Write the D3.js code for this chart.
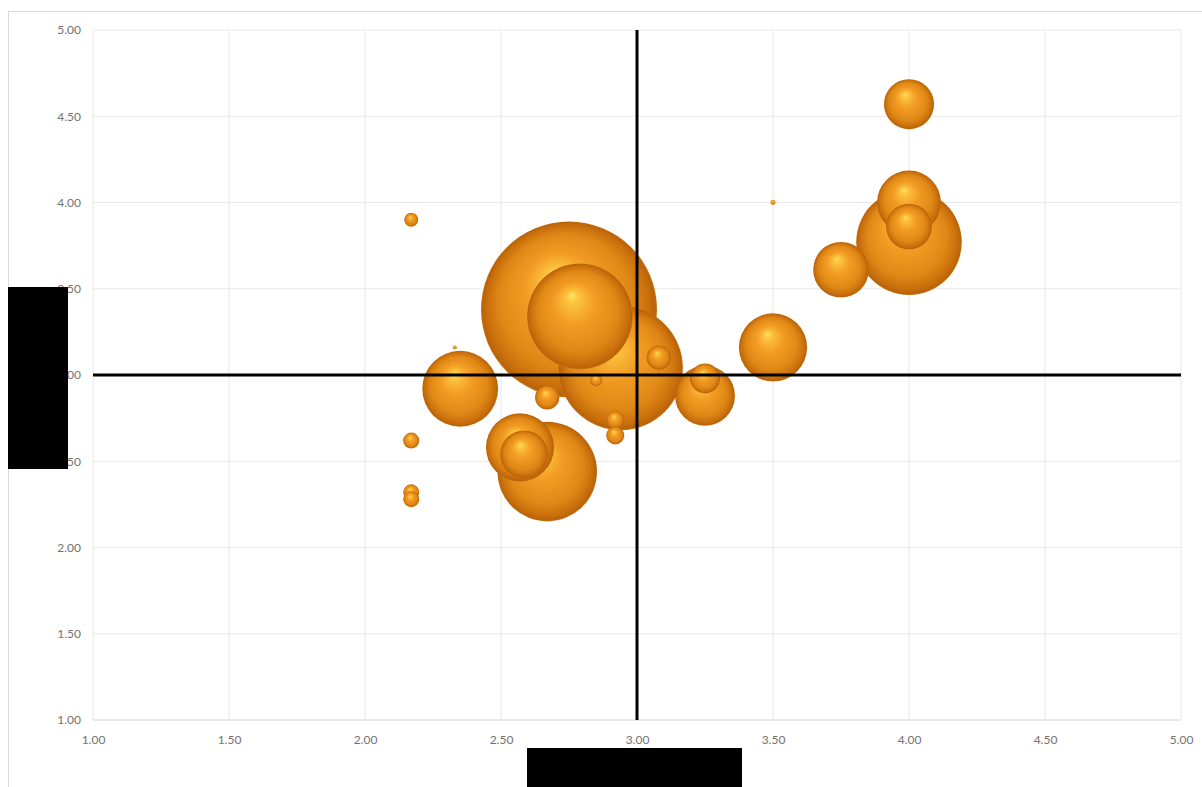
<!DOCTYPE html>
<html>
<head>
<meta charset="utf-8">
<script src="https://cdn.jsdelivr.net/npm/d3@7"></script>
<style>
  html, body { margin: 0; padding: 0; background: #fff; }
  svg { display: block; }
  .tick text { font-family: Lato, "Liberation Sans", sans-serif; font-size: 12px; fill: #737373; }
</style>
</head>
<body>
<svg id="chart" width="1202" height="787"></svg>
<script>
// Bubble series: x value, y value, bubble size
const xValues = [4.00, 3.50, 2.17, 2.75, 2.79, 2.94, 3.08, 2.85, 2.35, 2.33, 2.67, 2.92, 2.92,
                 2.17, 2.17, 2.17, 2.67, 2.57, 2.585, 3.25, 3.25, 3.50, 3.75, 4.00, 4.00, 4.00];
const yValues = [4.57, 4.00, 3.90, 3.38, 3.34, 3.04, 3.10, 2.97, 2.92, 3.16, 2.87, 2.74, 2.65,
                 2.62, 2.32, 2.28, 2.44, 2.58, 2.54, 2.88, 2.98, 3.16, 3.61, 3.77, 4.00, 3.86];
const sizes   = [8.1, 0.08, 0.63, 100, 36, 50, 1.9, 0.46, 18.6, 0.05, 1.9, 1.05, 1.05,
                 0.83, 0.83, 0.83, 32, 15, 7.4, 11.6, 2.9, 15, 10, 36, 13.2, 6.8];

// Axis ticks and the midpoint reference lines
const xTicks = [1.00, 1.50, 2.00, 2.50, 3.00, 3.50, 4.00, 4.50, 5.00];
const yTicks = [1.00, 1.50, 2.00, 2.50, 3.00, 3.50, 4.00, 4.50, 5.00];
const xMid = 3.00;
const yMid = 3.00;

const svg = d3.select("#chart");

const x = d3.scaleLinear().domain([1, 5]).range([93, 1181]);
const y = d3.scaleLinear().domain([1, 5]).range([720, 30]);
const r = d3.scaleSqrt().domain([0, d3.max(sizes)]).range([0, 88]);

// chart area frame
svg.append("rect")
  .attr("x", 8.5).attr("y", 11.5)
  .attr("width", 1300).attr("height", 900)
  .attr("fill", "none").attr("stroke", "#dadada");

// shaded sphere gradient
const defs = svg.append("defs");
const grad = defs.append("radialGradient")
  .attr("id", "sphere")
  .attr("cx", 0.5).attr("cy", 0.5).attr("r", 0.5)
  .attr("fx", 0.42).attr("fy", 0.3);
[
  [0.00, "#ffe468"],
  [0.12, "#fcc23e"],
  [0.40, "#f29c24"],
  [0.75, "#e08816"],
  [0.92, "#c96f0c"],
  [0.98, "#b9630a"],
  [1.00, "#c8740f"]
].forEach(([o, c]) => grad.append("stop").attr("offset", o).attr("stop-color", c));

// gridlines
const grid = svg.append("g");
grid.selectAll("line.gx").data(xTicks).join("line")
  .attr("x1", d => x(d)).attr("x2", d => x(d))
  .attr("y1", y(5)).attr("y2", y(1))
  .attr("stroke", "#e8e8e8").attr("stroke-width", 1);
grid.selectAll("line.gy").data(yTicks).join("line")
  .attr("x1", x(1)).attr("x2", x(5))
  .attr("y1", d => y(d)).attr("y2", d => y(d))
  .attr("stroke", d => d === 1 ? "#d4d4d4" : "#e8e8e8").attr("stroke-width", 1);

// axes (labels only)
const xAxis = d3.axisBottom(x).tickValues(xTicks).tickFormat(d3.format(".2f")).tickSize(0).tickPadding(15);
const yAxis = d3.axisLeft(y).tickValues(yTicks).tickFormat(d3.format(".2f")).tickSize(0).tickPadding(12);
svg.append("g").attr("transform", `translate(0,${y(1)})`).call(xAxis)
  .call(g => g.select(".domain").remove());
svg.append("g").attr("transform", `translate(${x(1)},0)`).call(yAxis)
  .call(g => g.select(".domain").remove());

// bubbles, larger ones behind
const data = xValues.map((v, i) => ({ x: v, y: yValues[i], s: sizes[i] }))
  .sort((a, b) => b.s - a.s);
svg.append("g").selectAll("circle").data(data).join("circle")
  .attr("cx", d => x(d.x))
  .attr("cy", d => y(d.y))
  .attr("r", d => Math.max(r(d.s), 1.5))
  .attr("fill", "url(#sphere)");

// midpoint reference lines
svg.append("line")
  .attr("x1", x(xMid)).attr("x2", x(xMid))
  .attr("y1", y(5)).attr("y2", y(1))
  .attr("stroke", "#000").attr("stroke-width", 3);
svg.append("line")
  .attr("x1", x(1)).attr("x2", x(5))
  .attr("y1", y(yMid)).attr("y2", y(yMid))
  .attr("stroke", "#000").attr("stroke-width", 3);

// axis title blocks
svg.append("rect").attr("x", 8).attr("y", 287).attr("width", 60).attr("height", 182).attr("fill", "#000");
svg.append("rect").attr("x", 527).attr("y", 748).attr("width", 215).attr("height", 39).attr("fill", "#000");
</script>
</body>
</html>
